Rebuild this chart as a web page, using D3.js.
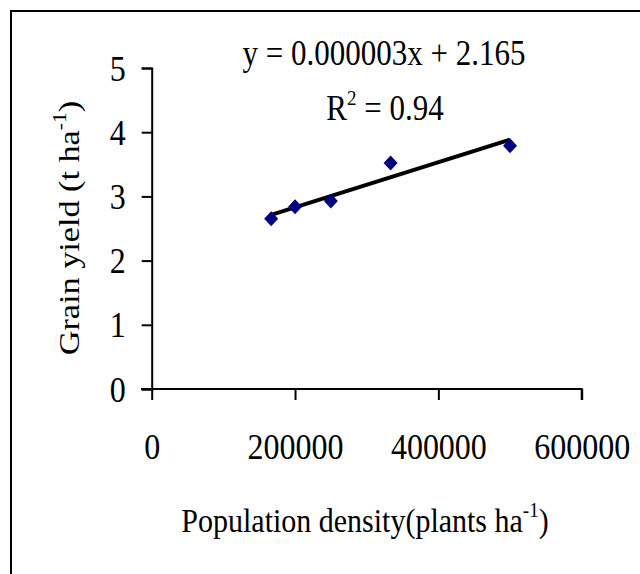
<!DOCTYPE html>

<head>
    <meta charset="UTF-8">
    <style>
    body {
        margin: 0;
        background: white;
    }

    text {
        font-family: "Liberation Serif", "Times New Roman", serif;
        fill: black;
    }

    .axis path,
    .axis line {
        stroke: black;
        stroke-width: 2;
    }
    </style>
</head>
<svg width="640" height="574"></svg>
<script src="https://d3js.org/d3.v7.min.js"></script>
<script>
var density = [166667, 200000, 250000, 333333, 500000];
var grainYield = [2.65, 2.84, 2.93, 3.52, 3.79];
var xTicks = [0, 200000, 400000, 600000];
var yTicks = [0, 1, 2, 3, 4, 5];
var equationText = "y = 0.000003x + 2.165";
var r2Text = "0.94";

// the original picture is a bit stretched vertically, text looks tall
var stretch = 1.14;

var svg = d3.select("svg");

// outer frame, runs off the right and bottom edge like the original
svg.append("rect")
    .attr("x", 11)
    .attr("y", 11)
    .attr("width", 700)
    .attr("height", 700)
    .attr("fill", "none")
    .attr("stroke", "black")
    .attr("stroke-width", 2);

var x = d3.scaleLinear().domain([0, 600000]).range([151.7, 581.7]);
var y = d3.scaleLinear().domain([0, 5]).range([389, 68]);

var xAxis = svg.append("g")
    .attr("class", "axis")
    .attr("transform", "translate(0," + y(0) + ")")
    .call(d3.axisBottom(x).tickValues(xTicks).tickSize(11).tickSizeOuter(11)
        .tickFormat(d3.format("d")));
xAxis.select(".domain").attr("d", "M141,0H" + x(600000) + "V11");
xAxis.selectAll(".tick text")
    .attr("font-size", 32)
    .attr("y", 0)
    .attr("dy", 0)
    .attr("transform", "translate(0,70) scale(1," + stretch + ")");

var yAxis = svg.append("g")
    .attr("class", "axis")
    .attr("transform", "translate(" + x(0) + ",0)")
    .call(d3.axisLeft(y).tickValues(yTicks).tickSize(10).tickSizeOuter(10)
        .tickFormat(d3.format("d")));
yAxis.selectAll(".tick text")
    .attr("font-size", 32)
    .attr("x", 0)
    .attr("dy", 0)
    .attr("transform", "translate(-26,12) scale(1," + stretch + ")");

// least squares trend line
var n = density.length;
var mx = d3.mean(density), my = d3.mean(grainYield);
var sxy = 0, sxx = 0;
for (var i = 0; i < n; i++) {
    sxy += (density[i] - mx) * (grainYield[i] - my);
    sxx += (density[i] - mx) * (density[i] - mx);
}
var slope = sxy / sxx;
var intercept = my - slope * mx;
var x0 = d3.min(density), x1 = d3.max(density);

svg.append("line")
    .attr("x1", x(x0))
    .attr("y1", y(intercept + slope * x0))
    .attr("x2", x(x1))
    .attr("y2", y(intercept + slope * x1))
    .attr("stroke", "black")
    .attr("stroke-width", 4);

svg.selectAll(".pt")
    .data(density)
    .enter().append("path")
    .attr("class", "pt")
    .attr("d", "M0,-7.5L7,0L0,7.5L-7,0Z")
    .attr("fill", "#000080")
    .attr("transform", function(d, i) {
        return "translate(" + x(d) + "," + y(grainYield[i]) + ")";
    });

// equation labels
svg.append("text")
    .attr("transform", "translate(384,65) scale(1," + stretch + ")")
    .attr("text-anchor", "middle")
    .attr("font-size", 31)
    .text(equationText);

var r2 = svg.append("text")
    .attr("transform", "translate(385,120) scale(1," + stretch + ")")
    .attr("text-anchor", "middle")
    .attr("font-size", 31);
r2.append("tspan").text("R");
r2.append("tspan").attr("font-size", 19).attr("dy", -13).text("2");
r2.append("tspan").attr("dy", 13).text(" = " + r2Text);

// axis titles
var xt = svg.append("text")
    .attr("transform", "translate(365,532) scale(1," + stretch + ")")
    .attr("text-anchor", "middle")
    .attr("font-size", 30);
xt.append("tspan").text("Population density(plants ha");
xt.append("tspan").attr("font-size", 19).attr("dy", -13).text("-1");
xt.append("tspan").attr("dy", 13).text(")");

var yt = svg.append("text")
    .attr("transform", "translate(79,228) rotate(-90) scale(" + stretch + ",1)")
    .attr("text-anchor", "middle")
    .attr("font-size", 30);
yt.append("tspan").text("Grain yield (t ha");
yt.append("tspan").attr("font-size", 19).attr("dy", -13).text("-1");
yt.append("tspan").attr("dy", 13).text(")");
</script>
